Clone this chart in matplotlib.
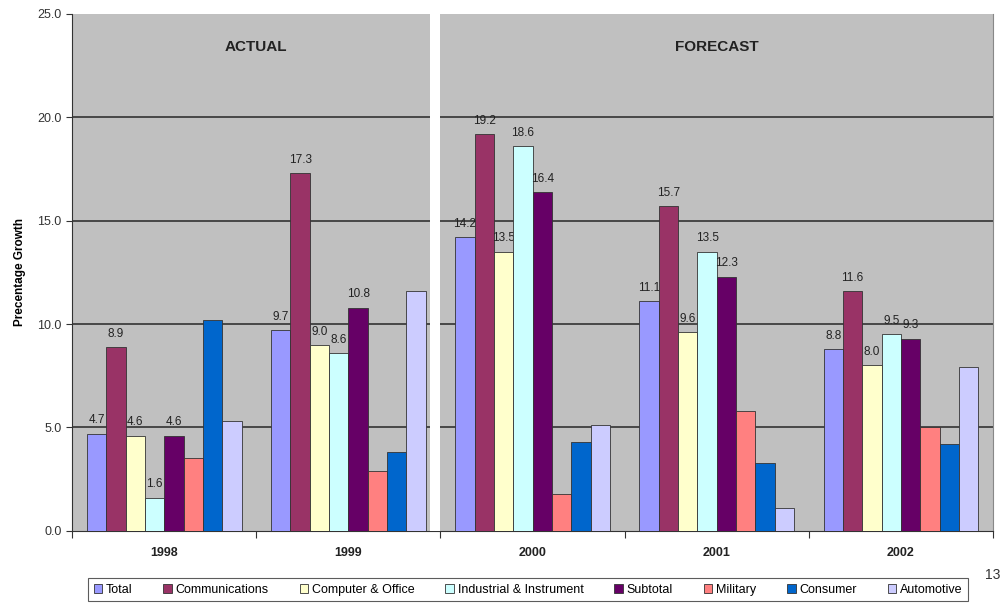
import numpy as np
import matplotlib.pyplot as plt
from matplotlib.patches import Patch

plt.rcParams['font.family'] = ['Liberation Sans', 'DejaVu Sans']

years = ['1998', '1999', '2000', '2001', '2002']
series = ['Total', 'Communications', 'Computer & Office', 'Industrial & Instrument',
          'Subtotal', 'Military', 'Consumer', 'Automotive']
colors = ['#9999FF', '#993366', '#FFFFCC', '#CCFFFF',
          '#660066', '#FF8080', '#0066CC', '#CCCCFF']

total = [4.7, 9.7, 14.2, 11.1, 8.8]
communications = [8.9, 17.3, 19.2, 15.7, 11.6]
computer = [4.6, 9.0, 13.5, 9.6, 8.0]
industrial = [1.6, 8.6, 18.6, 13.5, 9.5]
subtotal = [4.6, 10.8, 16.4, 12.3, 9.3]
military = [3.5, 2.9, 1.8, 5.8, 5.0]
consumer = [10.2, 3.8, 4.3, 3.3, 4.2]
automotive = [5.3, 11.6, 5.1, 1.1, 7.9]

values = [total, communications, computer, industrial,
          subtotal, military, consumer, automotive]
labelled = 5  # only the first five series carry value labels

fig = plt.figure(figsize=(10.02, 6.08), dpi=100)
ax = fig.add_axes([0.072, 0.127, 0.919, 0.850])
ax.set_facecolor('#C0C0C0')

x = np.arange(len(years))
w = 0.105
for i, (name, vals) in enumerate(zip(series, values)):
    pos = x - 4 * w + (i + 0.5) * w
    ax.bar(pos, vals, w, color=colors[i], edgecolor='#333333',
           linewidth=0.6, zorder=3 + 2 * i)
    if i < labelled:
        for p, v in zip(pos, vals):
            ax.text(p, v + 0.35, f'{v:.1f}', ha='center', va='bottom',
                    fontsize=8.5, color='#222222', zorder=4 + 2 * i)

# white gap between actual and forecast
ax.axvspan(1.445, 1.5, color='white', zorder=30, lw=0)

yticks = np.arange(0, 26, 5)
ax.set_xlim(-0.5, len(years) - 0.5)
ax.set_ylim(0, 25)
ax.set_yticks(yticks)
ax.set_yticklabels([f'{t:.1f}' for t in yticks], fontsize=9, color='#333333')
for t in yticks[1:-1]:
    ax.axhline(t, color='#333333', linewidth=1.2, zorder=1)

ax.set_xticks(np.arange(-0.5, len(years), 1.0))
ax.set_xticklabels([])
ax.set_xticks(x, minor=True)
ax.set_xticklabels(years, minor=True, fontsize=9, fontweight='bold', color='#222222')
ax.tick_params(axis='x', which='major', length=5, direction='out', color='#333333')
ax.tick_params(axis='x', which='minor', length=0, pad=12)
ax.tick_params(axis='y', length=4, color='#333333')

ax.spines['top'].set_visible(False)
ax.spines['right'].set_color('#888888')
ax.spines['left'].set_color('#333333')
ax.spines['bottom'].set_color('#333333')

ax.text(0.5, 23.4, 'ACTUAL', ha='center', va='center', fontsize=11, fontweight='bold', color='#222222')
ax.text(3.0, 23.4, 'FORECAST', ha='center', va='center', fontsize=11, fontweight='bold', color='#222222')

ax.set_ylabel('Precentage Growth', fontsize=8.5, fontweight='bold', labelpad=8)

handles = [Patch(facecolor=c, edgecolor='#333333', linewidth=0.6) for c in colors]
leg = fig.legend(handles, series, loc='center', bbox_to_anchor=(0.527, 0.03), ncol=8,
                 fontsize=9, frameon=True, fancybox=False, edgecolor='#333333',
                 handlelength=0.7, handleheight=0.7, handletextpad=0.3,
                 columnspacing=2.45, borderpad=0.45)
leg.get_frame().set_linewidth(0.8)

fig.text(0.983, 0.054, '13', fontsize=10, color='#333333', ha='left', va='center')

fig.savefig('out.png', dpi=100)
